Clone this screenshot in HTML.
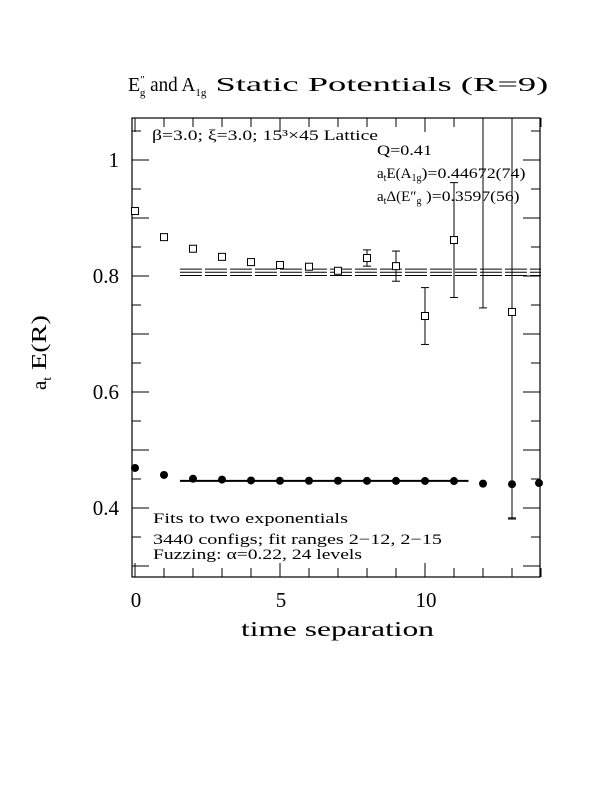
<!DOCTYPE html>
<html><head><meta charset="utf-8"><style>
body{margin:0;background:#fff;}
svg{display:block;font-family:"Liberation Serif",serif;}
</style></head><body>
<svg id="chart" width="612" height="792" viewBox="0 0 612 792">
<text x="128" y="91" font-size="20">E<tspan font-size="11" dy="-8">″</tspan><tspan font-size="11" dy="13" dx="-5">g</tspan><tspan dy="-5" textLength="50" lengthAdjust="spacingAndGlyphs">  and A</tspan><tspan font-size="11" dy="5">1g</tspan><tspan dy="-5" textLength="342" lengthAdjust="spacingAndGlyphs"> Static Potentials (R=9)</tspan></text>
<rect x="132" y="118" width="408" height="459" fill="none" stroke="#000" stroke-width="1.2"/>
<g id="ticks"></g>
<g id="fits"></g>
<g id="marks"></g>
<text x="152" y="140" font-size="15" textLength="226" lengthAdjust="spacingAndGlyphs">β=3.0; ξ=3.0; 15³×45 Lattice</text>
<text x="377" y="155" font-size="15" textLength="55" lengthAdjust="spacingAndGlyphs">Q=0.41</text>
<text x="377" y="178" font-size="15">a<tspan font-size="10" dy="3">t</tspan><tspan dy="-3">E(A</tspan><tspan font-size="10" dy="3">1g</tspan><tspan dy="-3" textLength="104" lengthAdjust="spacingAndGlyphs">)=0.44672(74)</tspan></text>
<text x="377" y="201" font-size="15">a<tspan font-size="10" dy="3">t</tspan><tspan dy="-3">Δ(E″</tspan><tspan font-size="10" dy="3">g</tspan><tspan dy="-3" textLength="98" lengthAdjust="spacingAndGlyphs"> )=0.3597(56)</tspan></text>
<text x="153" y="523" font-size="15" textLength="195" lengthAdjust="spacingAndGlyphs">Fits to two exponentials</text>
<text x="153" y="544" font-size="15" textLength="289" lengthAdjust="spacingAndGlyphs">3440 configs; fit ranges 2−12, 2−15</text>
<text x="153" y="559" font-size="15" textLength="209" lengthAdjust="spacingAndGlyphs">Fuzzing: α=0.22, 24 levels</text>
<text x="241" y="636" font-size="21" textLength="193" lengthAdjust="spacingAndGlyphs">time separation</text>
<text transform="translate(46,390) rotate(-90)" font-size="21">a<tspan font-size="13" dy="5">t</tspan><tspan dy="-5" textLength="62" lengthAdjust="spacingAndGlyphs"> E(R)</tspan></text>
</svg>
<script>
const xTicks=[0,5,10];
const yTicks=[0.4,0.6,0.8,1];
const yTickLabels=["0.4","0.6","0.8","1"];
const tA=[0,1,2,3,4,5,6,7,8,9,10,11,12,13,14];
const vA=[0.469,0.457,0.4505,0.449,0.4475,0.447,0.447,0.447,0.4468,0.4467,0.4466,0.4465,0.442,0.441,0.443];
const eA=[0,0,0,0,0,0,0,0,0,0,0,0,0,0.06,0];
const tE=[0,1,2,3,4,5,6,7,8,9,10,11,12,13];
const vE=[0.912,0.867,0.847,0.833,0.824,0.819,0.816,0.809,0.831,0.817,0.731,0.862,1.1,0.738];
const eE=[0,0,0,0,0,0,0,0,0.014,0.026,0.049,0.099,0.355,0.355];
const fitA=[1.55,11.5,0.4467];
const fitE=[1.55,14,0.8064,0.0055];
const X=v=>135+v*29, Y=v=>508-(v-0.4)*580;
const NS="http://www.w3.org/2000/svg";
function mk(tag,attrs,parent){const e=document.createElementNS(NS,tag);for(const k in attrs)e.setAttribute(k,attrs[k]);document.getElementById(parent).appendChild(e);return e;}
for(let t=0;t<=14;t++){const big=t%5===0;const L=big?14:9;
const a=mk('line',{x1:X(t),x2:X(t),y1:577,y2:577-L,stroke:'#000'},'ticks');


const b=mk('line',{x1:X(t),x2:X(t),y1:118,y2:118+L,stroke:'#000'},'ticks');

}
xTicks.forEach(t=>{const e=mk('text',{x:X(t)+1,y:607,'font-size':21,'text-anchor':'middle'},'ticks');e.textContent=String(t);

});
for(let i=0;i<=15;i++){const v=0.3+i*0.05;const y=Y(v);if(y<118||y>577)continue;const big=Math.abs(v*10-Math.round(v*10))<1e-6;const L=big?17:9;
const a=mk('line',{x1:132,x2:132+L,y1:y,y2:y,stroke:'#000'},'ticks');


const b=mk('line',{x1:540,x2:540-L,y1:y,y2:y,stroke:'#000'},'ticks');

}
yTicks.forEach((v,i)=>{const e=mk('text',{x:119,y:Y(v)+7,'font-size':21,'text-anchor':'end'},'ticks');e.textContent=yTickLabels[i];

});
const fa=mk('line',{x1:X(fitA[0]),x2:X(fitA[1]),y1:Y(fitA[2]),y2:Y(fitA[2]),stroke:'#000','stroke-width':2},'fits');


[-1,0,1].forEach(k=>{const y=Y(fitE[2]+k*fitE[3]);
const l=mk('line',{x1:X(fitE[0]),x2:X(fitE[1]),y1:y,y2:y,stroke:'#000','stroke-dasharray':'22,3'},'fits');

});
function clip(y){return Math.max(118,Math.min(577,y));}
tE.forEach((t,i)=>{const x=X(t),y=Y(vE[i]);
if(eE[i]>0){const y1=clip(Y(vE[i]+eE[i])),y2=clip(Y(vE[i]-eE[i]));
const eb=mk('line',{x1:x,x2:x,y1:y1,y2:y2,stroke:'#000'},'marks');


[y1,y2].forEach(yy=>{if(yy>118&&yy<577){const c=mk('line',{x1:x-4,x2:x+4,y1:yy,y2:yy,stroke:'#000'},'marks');

}});}
if(y>118&&y<577){const r=mk('rect',{x:x-3.5,y:y-3.5,width:7,height:7,fill:'#fff',stroke:'#000'},'marks');

}});
tA.forEach((t,i)=>{const x=X(t),y=Y(vA[i]);
if(eA[i]>0){const y1=Y(vA[i]+eA[i]),y2=Y(vA[i]-eA[i]);
const eb=mk('line',{x1:x,x2:x,y1:y1,y2:y2,stroke:'#000'},'marks');


const c=mk('line',{x1:x-4,x2:x+4,y1:y2,y2:y2,stroke:'#000'},'marks');

}
const d=mk('circle',{cx:Math.min(x,539),cy:y,r:4,fill:'#000'},'marks');

});
</script>
</body></html>
